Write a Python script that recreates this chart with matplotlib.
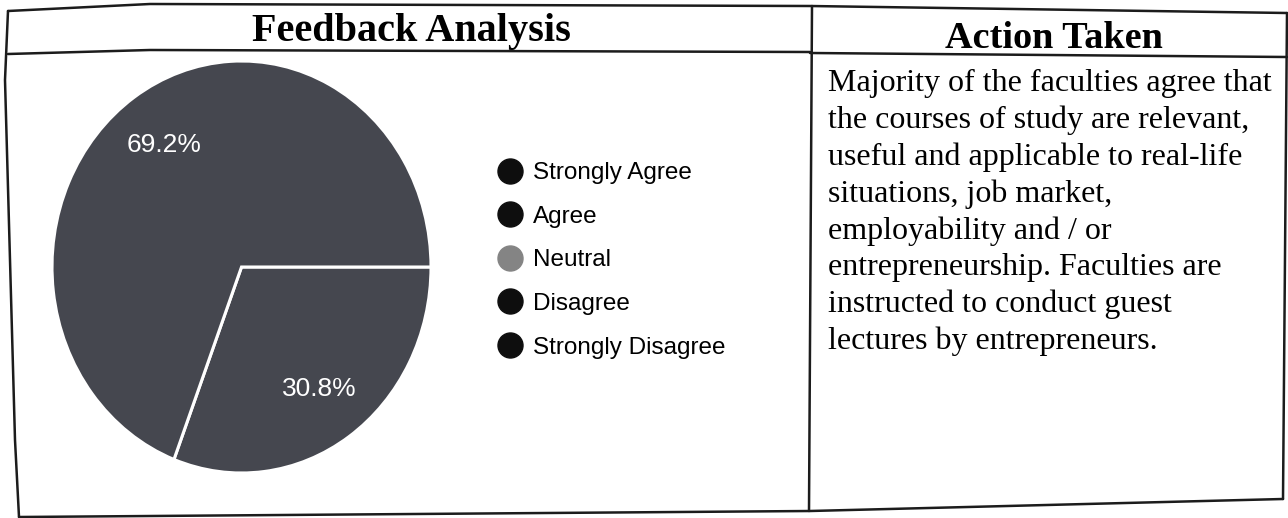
import matplotlib
matplotlib.use("Agg")
import matplotlib.pyplot as plt
from matplotlib.lines import Line2D

# chart data
categories = ["Strongly Agree", "Agree", "Neutral", "Disagree", "Strongly Disagree"]
shares = [30.8, 69.2, 0.0, 0.0, 0.0]
legend_colors = ["#0e0e0e", "#0e0e0e", "#848484", "#0e0e0e", "#0e0e0e"]
slice_color = "#45474f"

headers = ["Feedback Analysis", "Action Taken"]
action_lines = [
    "Majority of the faculties agree that",
    "the courses of study are relevant,",
    "useful and applicable to real-life",
    "situations, job market,",
    "employability and / or",
    "entrepreneurship. Faculties are",
    "instructed to conduct guest",
    "lectures by entrepreneurs.",
]

W, H = 1288, 518
fig = plt.figure(figsize=(W / 100, H / 100), dpi=100)
fig.patch.set_facecolor("white")

# page axes in pixel coords (y down) for the table frame and texts
page = fig.add_axes([0, 0, 1, 1])
page.set_xlim(0, W)
page.set_ylim(H, 0)
page.axis("off")

line_kw = dict(color="#1c1c1c", lw=1.8, solid_capstyle="round")
# table borders (scan is slightly skewed)
page.plot([8, 150, 810, 1287], [11, 4, 6, 13], **line_kw)            # top
page.plot([8, 150, 810], [54, 50, 52], **line_kw)                     # header sep, left
page.plot([810, 1287], [53, 57], **line_kw)                           # header sep, right
page.plot([19, 810, 1283], [517, 511, 499], **line_kw)                # bottom
page.plot([8, 5, 15, 19], [11, 80, 440, 517], **line_kw)              # left
page.plot([812, 809], [6, 511], **line_kw)                            # column divider
page.plot([1287, 1283], [13, 499], **line_kw)                         # right

serif = ["Liberation Serif", "DejaVu Serif"]
page.text(411, 31, headers[0], ha="center", va="center",
          fontsize=29, fontweight="bold", family=serif)
page.text(1054, 39, headers[1], ha="center", va="center",
          fontsize=27.5, fontweight="bold", family=serif)
page.text(828, 69, "\n".join(action_lines), ha="left", va="top",
          fontsize=23, family=serif, linespacing=1.33)

# pie chart
ax = fig.add_axes([52 / W, (H - 473) / H, 379 / W, 412 / H])
vals = [v for v in shares if v > 0]
ax.pie(vals, colors=[slice_color] * len(vals), startangle=0, counterclock=False,
       autopct="%.1f%%", pctdistance=0.72,
       wedgeprops=dict(edgecolor="white", linewidth=2.2),
       textprops=dict(color="white", fontsize=19, family="Liberation Sans"))
ax.set_aspect("auto")
ax.set_xlim(-1, 1)
ax.set_ylim(-1, 1)

# legend
handles = [Line2D([], [], ls="", marker="o", markersize=18,
                  markerfacecolor=c, markeredgecolor=c) for c in legend_colors]
fig.legend(handles, categories, loc="upper left",
           bbox_to_anchor=(498 / W, 1 - 162 / H),
           frameon=False, borderpad=0, borderaxespad=0,
           handlelength=1.0, handletextpad=0.45, labelspacing=0.89,
           prop=dict(family="Liberation Sans", size=17.5))

fig.savefig("out.png", dpi=100, facecolor="white")
